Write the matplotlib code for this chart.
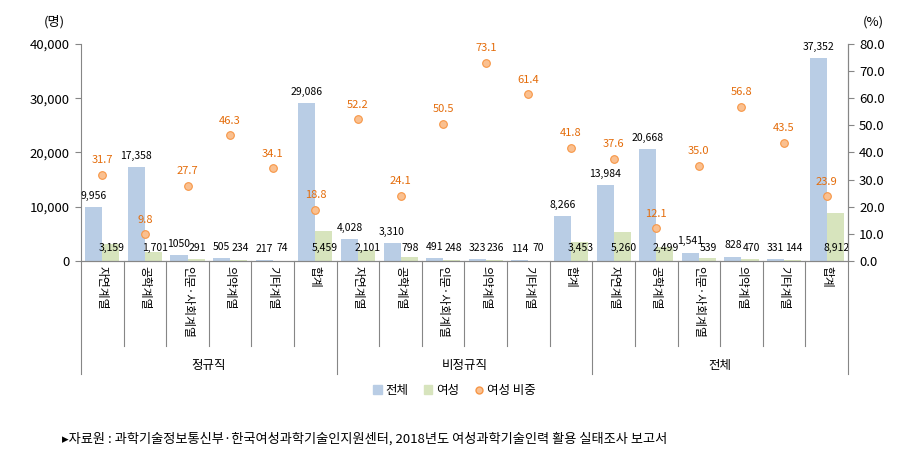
import matplotlib
matplotlib.use("Agg")
from matplotlib import pyplot as plt
from matplotlib.patches import Patch
from matplotlib.lines import Line2D
import numpy as np

plt.rcParams['font.family'] = ['Noto Sans CJK KR', 'DejaVu Sans']

# data
groups = ["정규직", "비정규직", "전체"]
fields = ["자연계열", "공학계열", "인문·사회계열", "의약계열", "기타계열", "합계"]

total = [9956, 17358, 1050, 505, 217, 29086,
         4028, 3310, 491, 323, 114, 8266,
         13984, 20668, 1541, 828, 331, 37352]
women = [3159, 1701, 291, 234, 74, 5459,
         2101, 798, 248, 236, 70, 3453,
         5260, 2499, 539, 470, 144, 8912]
share = [31.7, 9.8, 27.7, 46.3, 34.1, 18.8,
         52.2, 24.1, 50.5, 73.1, 61.4, 41.8,
         37.6, 12.1, 35.0, 56.8, 43.5, 23.9]

total_labels = [f"{v:,}" for v in total]
total_labels[2] = "1050"   # written without comma in the source

BLUE = "#B9CDE5"
GREEN = "#D7E4BD"
DOT_FACE = "#FAC090"
DOT_EDGE = "#F79646"
ORANGE = "#E46C0A"
GRAY = "#868686"

fig = plt.figure(figsize=(9.05, 4.67), dpi=100)
ax = fig.add_axes([0.0895, 0.441, 0.8475, 0.465])
ax2 = ax.twinx()

n = len(total)
x = np.arange(n)
w = 0.4

ax.bar(x - w / 2, total, w, color=BLUE, zorder=2)
ax.bar(x + w / 2, women, w, color=GREEN, zorder=2)

ax.set_xlim(-0.5, n - 0.5)
ax.set_ylim(0, 40000)
ax.set_yticks(range(0, 40001, 10000))
ax.set_yticklabels([f"{v:,}" for v in range(0, 40001, 10000)], fontsize=9.5)
ax.set_xticks([])

ax2.set_ylim(0, 80)
ax2.set_yticks(np.arange(0, 81, 10))
ax2.set_yticklabels([f"{v:.1f}" for v in np.arange(0, 81, 10)], fontsize=9.5)

ax2.plot(x, share, "o", ms=5.5, mfc=DOT_FACE, mec=DOT_EDGE, mew=0.8, zorder=5)

for a in (ax, ax2):
    a.spines["top"].set_visible(False)
    for s in ("left", "right", "bottom"):
        a.spines[s].set_color(GRAY)
    a.tick_params(axis="y", length=4, color=GRAY, pad=4)
ax2.spines["left"].set_visible(False)

# value labels
for i in range(n):
    ax.annotate(total_labels[i], (x[i] - w / 2, total[i]), xytext=(0, 4.5),
                textcoords="offset points", ha="center", va="bottom", fontsize=7.5)
    ax.text(x[i] + w / 2 + 0.03, 2400, f"{women[i]:,}", ha="center", va="center",
            fontsize=7.5, zorder=4)
    ax2.annotate(f"{share[i]:.1f}", (x[i], share[i]), xytext=(0, 10.5),
                 textcoords="offset points", ha="center", va="center",
                 fontsize=8, color=ORANGE)

# category labels and separators
trans = ax.get_xaxis_transform()
for i in range(n):
    ax.text(x[i], -0.025, fields[i % len(fields)], transform=trans, rotation=270,
            ha="center", va="top", fontsize=8.5)
for b in range(n + 1):
    bottom = -0.52 if b % len(fields) == 0 else -0.39
    ax.plot([b - 0.5, b - 0.5], [0, bottom], transform=trans, color=GRAY,
            lw=0.8, clip_on=False)
for g, name in enumerate(groups):
    cx = g * len(fields) + (len(fields) - 1) / 2
    ax.text(cx, -0.48, name, transform=trans, ha="center", va="center", fontsize=9)

ax.text(-0.035, 1.1, "(명)", transform=ax.transAxes, ha="center", va="center",
        fontsize=9.5)
ax2.text(1.033, 1.1, "(%)", transform=ax2.transAxes, ha="center", va="center",
         fontsize=9.5)

handles = [Patch(color=BLUE, label="전체"),
           Patch(color=GREEN, label="여성"),
           Line2D([], [], ls="", marker="o", ms=5, mfc=DOT_FACE, mec=DOT_EDGE,
                  label="여성 비중")]
fig.legend(handles=handles, loc="center", bbox_to_anchor=(0.502, 0.164), ncol=3,
           frameon=False, fontsize=9, handlelength=0.7, handleheight=0.7,
           handletextpad=0.3, columnspacing=1.2)

fig.text(0.068, 0.06, "▸자료원 : 과학기술정보통신부·한국여성과학기술인지원센터, 2018년도 여성과학기술인력 활용 실태조사 보고서",
         fontsize=9.5, ha="left", va="center",
         family=["Noto Sans CJK KR", "DejaVu Sans"])

fig.savefig("out.png", dpi=100)
